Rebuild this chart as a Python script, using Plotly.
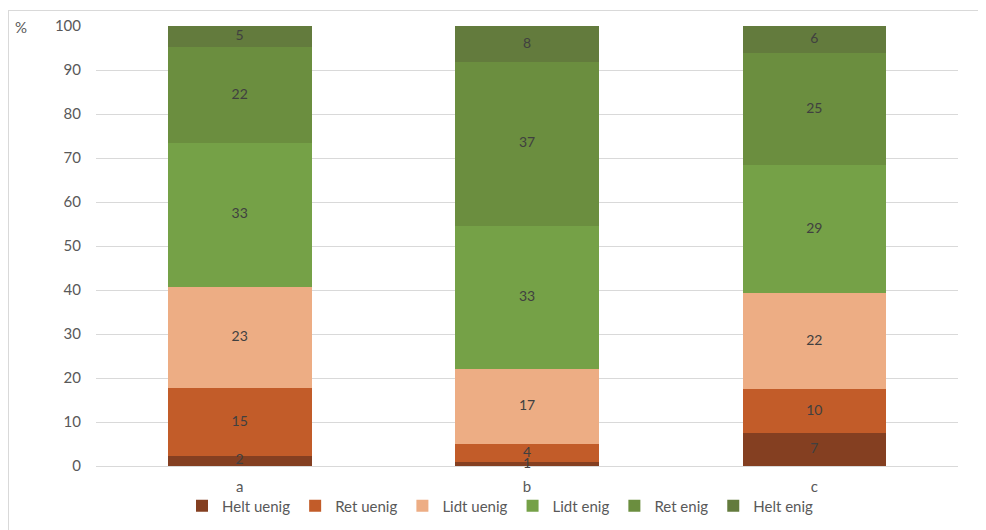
import plotly.graph_objects as go

categories = ["a", "b", "c"]
series_names = ["Helt uenig", "Ret uenig", "Lidt uenig", "Lidt enig", "Ret enig", "Helt enig"]
helt_uenig = [2.3, 0.9, 7.4]
ret_uenig = [15.4, 4.1, 10.1]
lidt_uenig = [23.0, 17.0, 21.8]
lidt_enig = [32.7, 32.6, 29.1]
ret_enig = [21.8, 37.2, 25.4]
helt_enig = [4.8, 8.2, 6.2]
y_ticks = [0, 10, 20, 30, 40, 50, 60, 70, 80, 90, 100]

series_values = [helt_uenig, ret_uenig, lidt_uenig, lidt_enig, ret_enig, helt_enig]
colors = ["#843F21", "#C25C29", "#EDAD84", "#75A147", "#6B8E3F", "#637B3D"]

FONT = "Lato, 'Liberation Sans', sans-serif"

fig = go.Figure()
for name, vals, col in zip(series_names, series_values, colors):
    fig.add_trace(go.Bar(
        x=categories, y=vals, name=name,
        marker=dict(color=col, line=dict(width=0)),
        width=0.5,
    ))

# data labels drawn on top of all bars, at the middle of each stacked segment
lab_x, lab_y, lab_t = [], [], []
base = [0.0] * len(categories)
for vals in series_values:
    for i, v in enumerate(vals):
        lab_x.append(categories[i])
        lab_y.append(base[i] + v / 2)
        lab_t.append(f"{v:.0f}")
        base[i] += v
fig.add_trace(go.Scatter(
    x=lab_x, y=lab_y, text=lab_t, mode="text", showlegend=False, hoverinfo="skip",
    textposition="middle center", cliponaxis=False,
    textfont=dict(color="#404040", size=14, family=FONT),
))

# page body has an 8px margin, so the figure is placed at (8, 8) in the window
OFF = 8
W, H = 986 - OFF, 530 - OFF
L, R, T, B = 96 - OFF, 28, 26 - OFF, 64
pw, ph = W - L - R, H - T - B

def px_x(x):
    return (x - OFF - L) / pw

def px_y(y):
    return (H - B - (y - OFF)) / ph

fig.update_layout(
    barmode="stack",
    width=W, height=H,
    margin=dict(l=L, r=R, t=T, b=B, autoexpand=False),
    paper_bgcolor="white", plot_bgcolor="white",
    font=dict(family=FONT, size=13, color="#595959"),
    showlegend=True,
    legend=dict(orientation="h", x=px_x(182), xanchor="left", y=px_y(506), yanchor="middle",
                font=dict(size=15, color="#595959"), itemwidth=30, traceorder="normal",
                bgcolor="rgba(0,0,0,0)"),
    xaxis=dict(showgrid=False, ticks="outside", ticklen=7, tickcolor="rgba(0,0,0,0)",
               tickfont=dict(size=15, color="#595959"), showline=False),
    yaxis=dict(range=[0, 100], tickvals=y_ticks, showgrid=True, gridcolor="#D9D9D9", gridwidth=1,
               zeroline=True, zerolinecolor="#D9D9D9", zerolinewidth=1,
               tickfont=dict(size=15, color="#595959"), ticklabelstandoff=14, showline=False),
    shapes=[
        dict(type="line", xref="paper", yref="paper", x0=px_x(8.5), x1=px_x(8.5), y0=px_y(10), y1=px_y(535),
             line=dict(color="#D9D9D9", width=1)),
        dict(type="line", xref="paper", yref="paper", x0=px_x(8.5), x1=px_x(990), y0=px_y(10.5), y1=px_y(10.5),
             line=dict(color="#D9D9D9", width=1)),
    ],
    annotations=[
        dict(text="%", xref="paper", yref="paper", x=px_x(13), y=px_y(27), xanchor="left", yanchor="middle",
             showarrow=False, font=dict(size=15, color="#595959")),
    ],
)

fig.write_html("out.html")
